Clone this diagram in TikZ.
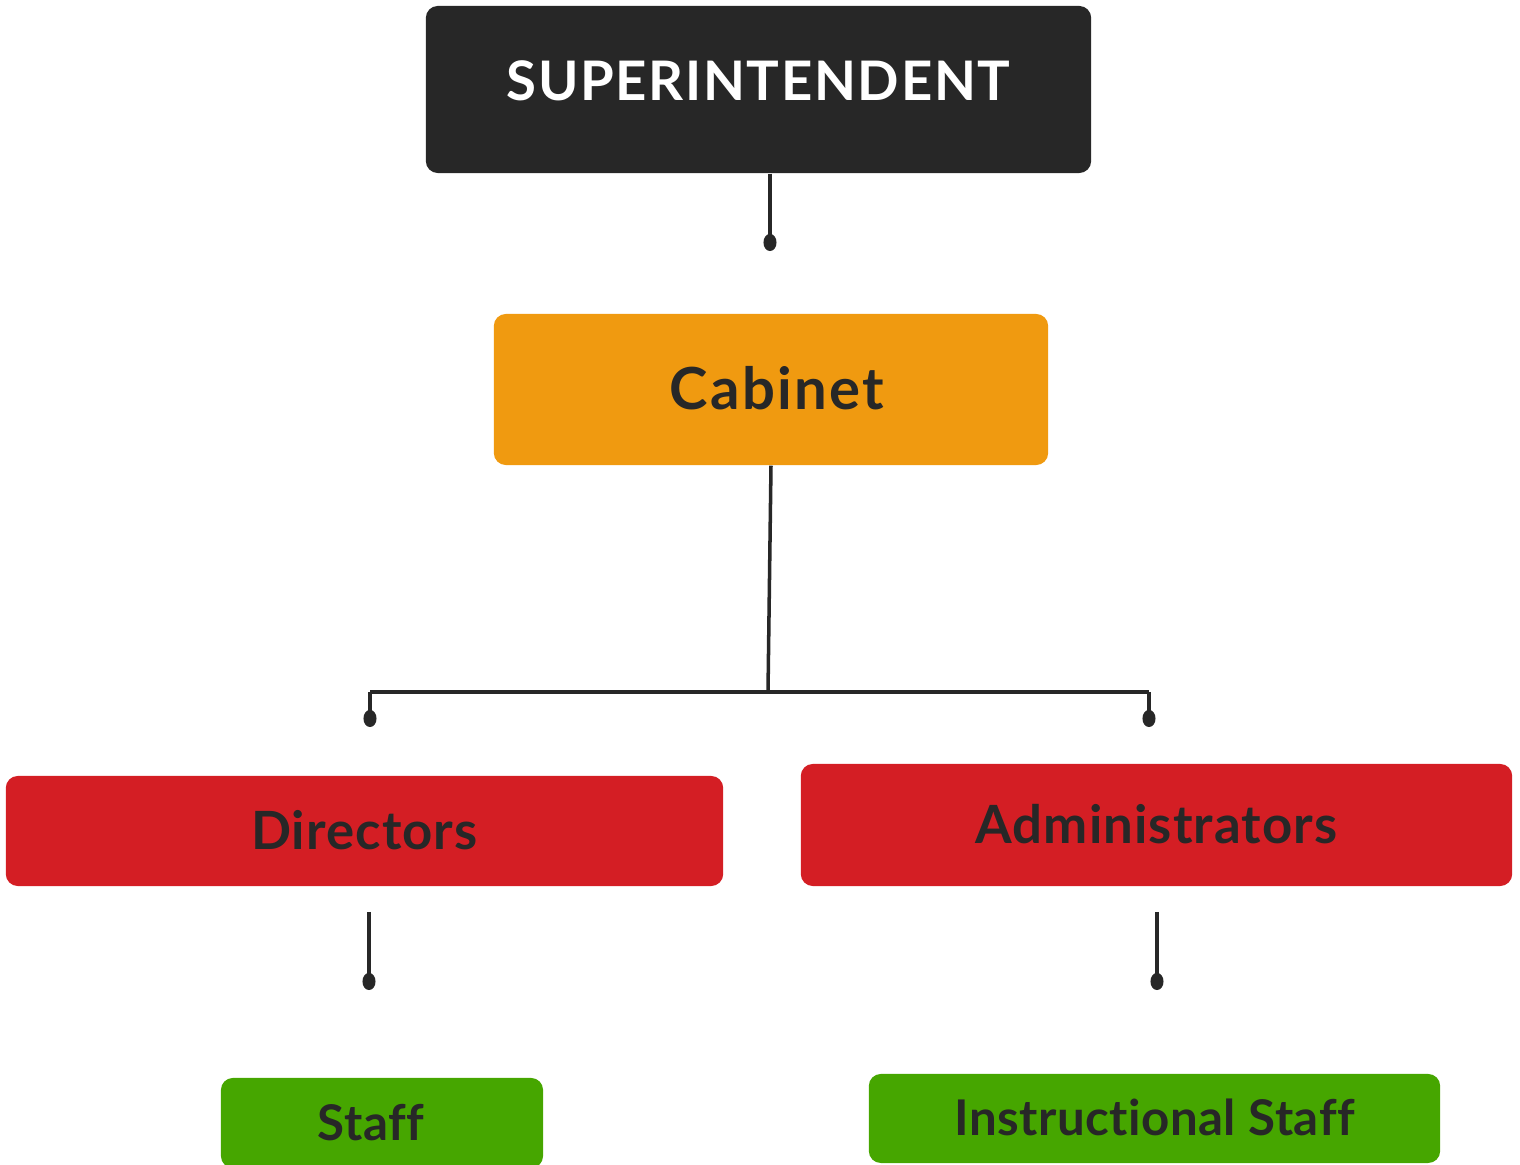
\documentclass[tikz,border=0pt]{standalone}
\usepackage{fontspec}
\setmainfont{Lato}[Ligatures={NoCommon}]
\usetikzlibrary{arrows.meta}

\definecolor{ink}{HTML}{272727}
\definecolor{cabinetorange}{HTML}{F09A10}
\definecolor{leadred}{HTML}{D41E24}
\definecolor{staffgreen}{HTML}{46A600}

\begin{document}
\begin{tikzpicture}[
  x=0.01cm, y=-0.01cm,
  box/.style={rounded corners=0.12cm, inner sep=0pt, align=center,
              text=ink, text depth=0pt},
  topbox/.style={box, fill=ink, text=white,
                 font=\fontsize{15.5}{18}\bfseries\addfontfeature{LetterSpace=3}},
  cabbox/.style={box, fill=cabinetorange,
                 font=\fontsize{16.5}{18}\bfseries\addfontfeature{LetterSpace=4}},
  leadbox/.style={box, fill=leadred,
                  font=\fontsize{15}{18}\bfseries\addfontfeature{LetterSpace=2}},
  staffbox/.style={box, fill=staffgreen,
                   font=\fontsize{14}{16}\bfseries\addfontfeature{LetterSpace=1}},
  link/.style={draw=ink, line width=1pt},
  dot/.style={link, -{Circle[length=0.17cm, width=0.13cm]}}
]
  \useasboundingbox (0,0) rectangle (1520,1165);

  % boxes
  \node[topbox, minimum width=6.65cm, minimum height=1.67cm,
        text height=0.42cm, text depth=0.19cm]
        (super) at (758.5,89.5) {SUPERINTENDENT};
  \node[cabbox, minimum width=5.54cm, minimum height=1.51cm,
        text height=0.40cm] (cabinet) at (771,389.5) {\hspace*{0.12cm}Cabinet};
  \node[leadbox, minimum width=7.17cm, minimum height=1.10cm,
        text height=0.38cm] (directors) at (364.5,831) {Directors};
  \node[leadbox, minimum width=7.11cm, minimum height=1.22cm,
        text height=0.38cm] (admins) at (1156.5,825) {Administrators};
  \node[staffbox, minimum width=3.22cm, minimum height=0.90cm,
        text height=0.35cm] (staff) at (382,1123) {Staff\hspace*{0.22cm}};
  \node[staffbox, minimum width=5.71cm, minimum height=0.89cm,
        text height=0.34cm] (instr) at (1154.5,1118.5) {Instructional Staff};

  % connector ends
  \coordinate (supdot) at (770,251);
  \coordinate (fork) at (768,692);
  \coordinate (forkl) at (370,692);
  \coordinate (forkr) at (1149,692);
  \coordinate (dirdot) at (370,727);
  \coordinate (admdot) at (1149,727);
  \coordinate (dirtop) at (369,912);
  \coordinate (staffdot) at (369,990);
  \coordinate (admtop) at (1157,912);
  \coordinate (instrdot) at (1157,990);

  % connectors
  \draw[dot] (super.south -| supdot) -- (supdot);
  \draw[link] (cabinet.south) -- (fork);
  \draw[link] (forkl) -- (forkr);
  \draw[dot] (forkl) -- (dirdot);
  \draw[dot] (forkr) -- (admdot);
  \draw[dot] (dirtop) -- (staffdot);
  \draw[dot] (admtop) -- (instrdot);
\end{tikzpicture}
\end{document}
